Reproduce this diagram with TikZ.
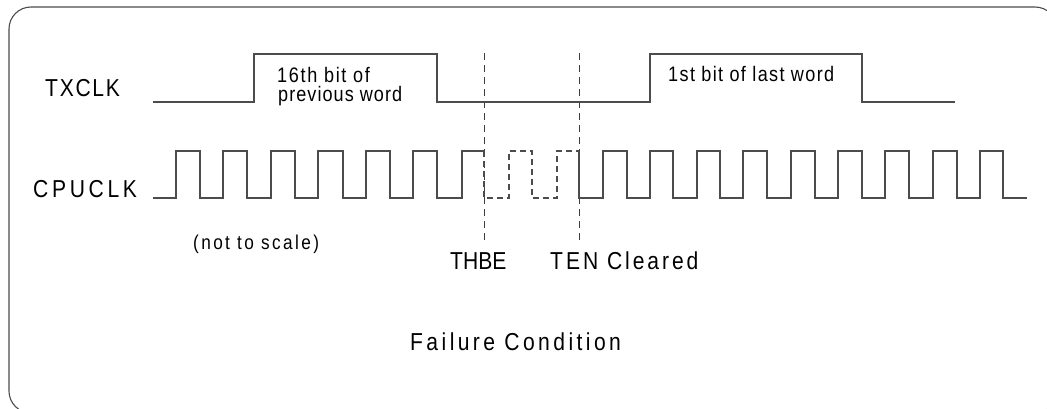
\documentclass[tikz,border=0pt]{standalone}
\usepackage{fontspec}
\setmainfont{Liberation Sans}[FakeStretch=0.86]
\newcommand{\mytxt}[3]{\fontsize{#1}{#1}\selectfont\addfontfeature{LetterSpace=#2}#3}
\begin{document}
\begin{tikzpicture}[x=1pt,y=-1pt,
  wave/.style={draw=black!70,line width=1.1pt},
  dwave/.style={draw=black!70,line width=1.1pt,dash pattern=on 6pt off 4pt},
  marker/.style={draw=black!75,line width=1pt,dash pattern=on 7pt off 5pt},
  lbl/.style={anchor=base west,inner sep=0pt,text=black},
  frame/.style={draw=black!70,line width=1.1pt,rounded corners=22pt}]
\useasboundingbox (0,0) rectangle (1047,409);
\clip (0,0) rectangle (1047,409);
\draw[frame] (9,7) rectangle (1057,413);
% labels
\node[lbl] (txclk) at (45,97) {\mytxt{24.5}{7}{TXCLK}};
\node[lbl] (cpuclk) at (33,197) {\mytxt{24.5}{15}{CPUCLK}};
\node[lbl] (b16a) at (277,83) {\mytxt{21}{8}{16th bit of}};
\node[lbl] (b16b) at (278,102) {\mytxt{21}{5}{previous word}};
\node[lbl] (b1) at (668,82) {\mytxt{21}{6.5}{1st bit of last word}};
\node[lbl] (nts) at (193,249) {\mytxt{20}{12}{(not to scale)}};
\node[lbl] (thbe) at (450,269) {\mytxt{24.5}{0}{THBE}};
\node[lbl] (ten) at (550,269) {\mytxt{24.5}{12}{TEN Cleared}};
\node[lbl] (fail) at (410,350) {\mytxt{24.5}{14}{Failure Condition}};
% markers
\coordinate (m1t) at (484,53); \coordinate (m1b) at (484,243);
\coordinate (m2t) at (579,53); \coordinate (m2b) at (579,243);
\draw[marker] (m1t) -- (m1b);
\draw[marker] (m2t) -- (m2b);
% TXCLK
\draw[wave] (153,102) -- (254,102) -- (254,54) -- (437,54) -- (437,102) -- (650,102) -- (650,54) -- (862,54) -- (862,102) -- (955,102);
% CPUCLK before THBE
\draw[wave] (153,198)
  -- (176,198) -- (176,151) -- (200,151) -- (200,198)
  -- (223,198) -- (223,151) -- (247,151) -- (247,198)
  -- (271,198) -- (271,151) -- (295,151) -- (295,198)
  -- (318,198) -- (318,151) -- (343,151) -- (343,198)
  -- (366,198) -- (366,151) -- (390,151) -- (390,198)
  -- (413,198) -- (413,151) -- (437,151) -- (437,198)
  -- (462,198) -- (462,151) -- (484,151);
% missing pulses
\draw[dwave] (484,151) -- (484,198) -- (509,198) -- (509,151) -- (532,151) -- (532,198) -- (557,198) -- (557,151) -- (579,151);
% CPUCLK after TEN cleared
\draw[wave] (579,151) -- (579,198)
  -- (603,198) -- (603,151) -- (627,151) -- (627,198)
  -- (650,198) -- (650,151) -- (673,151) -- (673,198)
  -- (697,198) -- (697,151) -- (720,151) -- (720,198)
  -- (743,198) -- (743,151) -- (767,151) -- (767,198)
  -- (791,198) -- (791,151) -- (815,151) -- (815,198)
  -- (838,198) -- (838,151) -- (862,151) -- (862,198)
  -- (885,198) -- (885,151) -- (909,151) -- (909,198)
  -- (933,198) -- (933,151) -- (957,151) -- (957,198)
  -- (980,198) -- (980,151) -- (1003,151) -- (1003,198)
  -- (1027,198);
\end{tikzpicture}
\end{document}
